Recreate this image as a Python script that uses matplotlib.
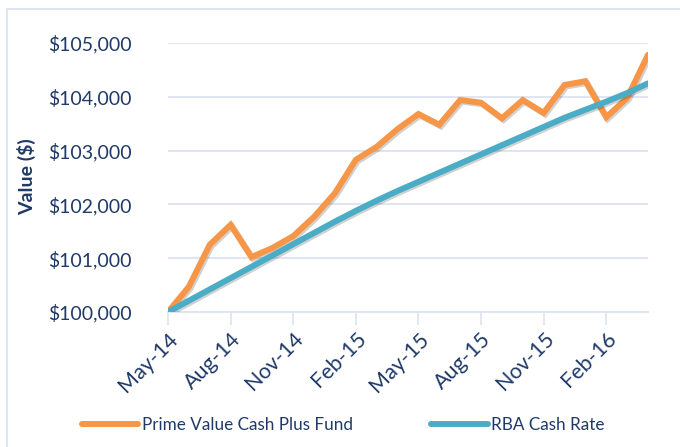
import matplotlib
matplotlib.use('Agg')
import matplotlib.pyplot as plt
import matplotlib.patheffects as pe
import matplotlib.transforms as mtransforms
from matplotlib.patches import Rectangle

plt.rcParams.update({
    'font.family': ['Lato', 'DejaVu Sans'],
})

# data (monthly May-14 .. Apr-16)
months = ['May-14', 'Jun-14', 'Jul-14', 'Aug-14', 'Sep-14', 'Oct-14',
          'Nov-14', 'Dec-14', 'Jan-15', 'Feb-15', 'Mar-15', 'Apr-15',
          'May-15', 'Jun-15', 'Jul-15', 'Aug-15', 'Sep-15', 'Oct-15',
          'Nov-15', 'Dec-15', 'Jan-16', 'Feb-16', 'Mar-16', 'Apr-16']
fund = [100000, 100470, 101250, 101620, 101020, 101190,
        101410, 101770, 102210, 102830, 103070, 103400,
        103680, 103480, 103940, 103890, 103600, 103940,
        103700, 104220, 104290, 103620, 103980, 104780]
rba = [100000, 100210, 100420, 100630, 100840, 101050,
       101260, 101470, 101680, 101880, 102070, 102250,
       102420, 102590, 102760, 102930, 103100, 103270,
       103440, 103610, 103760, 103910, 104070, 104250]
series_names = ['Prime Value Cash Plus Fund', 'RBA Cash Rate']
y_ticks = [100000, 101000, 102000, 103000, 104000, 105000]

C_ORANGE = '#F79646'
C_BLUE = '#4BACC6'
C_TEXT = '#1F3A68'
C_GRID = '#DCE3F1'

fig = plt.figure(figsize=(6.8, 4.47), dpi=100)
ax = fig.add_axes([168 / 680, 1 - 312 / 447, (648 - 168) / 680, (312 - 43) / 447])

# chart border (light)
fig.patches.append(Rectangle((7 / 680, -0.1), 1.2, 1 - 9 / 447 + 0.1,
                             transform=fig.transFigure, fill=False,
                             ec='#D6E0F2', lw=1.2))

x = list(range(len(months)))
shadow = [pe.SimpleLineShadow(offset=(1.2, -1.2), alpha=0.18), pe.Normal()]
l1, = ax.plot(x, fund, color=C_ORANGE, lw=4.3, solid_capstyle='round',
              solid_joinstyle='miter', zorder=3, path_effects=shadow)
l2, = ax.plot(x, rba, color=C_BLUE, lw=4.3, solid_capstyle='round',
              zorder=4, path_effects=shadow)

ax.set_xlim(0, len(months) - 1)
ax.set_ylim(100000, 105000)
ax.set_yticks(y_ticks)
ax.set_yticklabels([f'${v:,.0f}' for v in y_ticks], fontsize=14, color=C_TEXT)
ax.set_xticks(x[::3])
ax.set_xticklabels(months[::3], fontsize=15.5, color=C_TEXT, rotation=45,
                   ha='right', rotation_mode='anchor')
# nudge rotated labels a little to the right, as in the reference
shift = mtransforms.ScaledTranslation(6 / 100, 0, fig.dpi_scale_trans)
for lab in ax.get_xticklabels():
    lab.set_transform(lab.get_transform() + shift)

ax.grid(axis='y', color=C_GRID, lw=1.3)
ax.set_axisbelow(True)
for s in ['top', 'right', 'left']:
    ax.spines[s].set_visible(False)
ax.spines['bottom'].set_color(C_GRID)
ax.spines['bottom'].set_linewidth(1.3)
ax.tick_params(axis='y', length=0, pad=26)
ax.tick_params(axis='x', length=9, color=C_GRID, width=1.2, pad=3)

fig.text(27 / 680, 1 - 177 / 447, 'Value ($)', rotation=90, ha='center',
         va='center', fontsize=14, fontweight='bold', color=C_TEXT)

leg = fig.legend([l1, l2], series_names, loc='center',
                 bbox_to_anchor=(0.505, 1 - 425 / 447), ncol=2, frameon=False,
                 fontsize=12.3, handlelength=3.3, handletextpad=0.2,
                 columnspacing=4.6)
for t in leg.get_texts():
    t.set_color(C_TEXT)
for h in leg.legend_handles:
    h.set_path_effects([])

fig.savefig('out.png', dpi=100, facecolor='white')
